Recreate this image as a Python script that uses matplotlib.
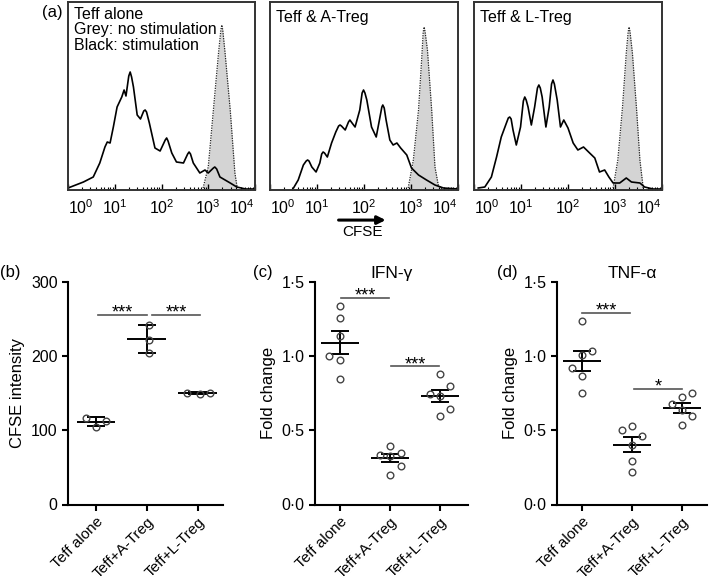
import numpy as np
import matplotlib
matplotlib.use('Agg')
import matplotlib.pyplot as plt
import matplotlib.transforms as mtransforms
from matplotlib.ticker import LogLocator, NullFormatter

plt.rcParams['font.family'] = ['Liberation Sans', 'DejaVu Sans']
plt.rcParams['mathtext.fontset'] = 'custom'
plt.rcParams['mathtext.rm'] = 'Liberation Sans'
plt.rcParams['mathtext.it'] = 'Liberation Sans:italic'
plt.rcParams['mathtext.bf'] = 'Liberation Sans:bold'

# (a) CFSE histograms as (log10 CFSE, cell count)
alone_stim_log = [0.0, 0.33, 0.54, 0.68, 0.79, 0.84, 0.90, 0.97, 1.05, 1.15, 1.20, 1.24, 1.30, 1.33, 1.36,
                  1.40, 1.48, 1.55, 1.62, 1.65, 1.68, 1.74, 1.86, 1.97, 2.08, 2.11, 2.14, 2.22, 2.32,
                  2.47, 2.56, 2.59, 2.62, 2.68, 2.82, 2.93, 3.00, 3.11, 3.14, 3.18, 3.25, 3.47, 3.61,
                  3.80, 4.0]
alone_stim_cnt = [2, 8, 13, 27, 43, 48, 47, 63, 83, 93, 100, 94, 114, 118, 113,
                  103, 75, 71, 79, 80, 78, 67, 42, 39, 50, 52, 49, 37, 28,
                  27, 36, 38, 36, 27, 17, 20, 17, 22, 23, 21, 13, 7, 3,
                  1, 1]
alone_rest_log = [2.89, 3.00, 3.11, 3.22, 3.27, 3.29, 3.31, 3.36, 3.47, 3.57, 3.62]
alone_rest_cnt = [2, 23, 80, 137, 160, 165, 160, 137, 80, 17, 2]

atreg_stim_log = [0.50, 0.60, 0.71, 0.77, 0.80, 0.83, 0.89, 0.98, 1.06, 1.10, 1.13, 1.16, 1.22, 1.31,
                  1.40, 1.46, 1.49, 1.52, 1.60, 1.67, 1.70, 1.73, 1.81, 1.91, 1.96, 1.99, 2.02, 2.06,
                  2.16, 2.26, 2.34, 2.38, 2.40, 2.43, 2.47, 2.55, 2.62, 2.70, 2.78, 2.91, 3.01, 3.16,
                  3.33, 3.51, 3.69, 4.0]
atreg_stim_cnt = [2, 10, 25, 29, 30, 29, 23, 18, 27, 36, 38, 37, 33, 47,
                  58, 64, 65, 64, 60, 68, 70, 68, 63, 80, 97, 100, 97, 90,
                  63, 53, 73, 83, 85, 82, 70, 50, 45, 47, 42, 35, 22, 15,
                  10, 5, 2, 1]
atreg_rest_log = [2.94, 3.05, 3.16, 3.23, 3.26, 3.28, 3.30, 3.35, 3.44, 3.51, 3.58, 3.66]
atreg_rest_cnt = [2, 30, 80, 133, 158, 163, 158, 140, 80, 23, 5, 1]

ltreg_stim_log = [0.09, 0.23, 0.37, 0.48, 0.58, 0.69, 0.73, 0.76, 0.79, 0.83, 0.90, 0.99, 1.05, 1.08,
                  1.11, 1.15, 1.22, 1.29, 1.35, 1.38, 1.41, 1.45, 1.53, 1.60, 1.65, 1.68, 1.71, 1.77,
                  1.84, 1.91, 2.00, 2.11, 2.21, 2.33, 2.46, 2.57, 2.67, 2.78, 2.87, 2.96, 3.10, 3.24,
                  3.35, 3.53, 3.63, 3.81, 4.0]
ltreg_stim_cnt = [2, 3, 13, 33, 53, 67, 72, 73, 71, 60, 45, 63, 89, 93,
                  90, 83, 65, 83, 102, 105, 102, 93, 63, 83, 106, 110, 106, 90,
                  63, 70, 62, 47, 40, 43, 37, 32, 18, 20, 13, 7, 7, 12,
                  8, 7, 3, 1, 1]
ltreg_rest_log = [2.96, 3.06, 3.16, 3.24, 3.28, 3.30, 3.32, 3.37, 3.46, 3.53, 3.60]
ltreg_rest_cnt = [2, 30, 83, 137, 158, 163, 158, 137, 80, 30, 2]

hist_titles = ['Teff alone\nGrey: no stimulation\nBlack: stimulation', 'Teff & A-Treg', 'Teff & L-Treg']
hist_ticks = [0, 1, 2, 3, 4]

# (b)-(d) scatter data
groups = ['Teff alone', 'Teff+A-Treg', 'Teff+L-Treg']

cfse_alone = [117, 105, 113]
cfse_atreg = [242, 222, 204]
cfse_ltreg = [151, 149, 151]

ifng_alone = [1.337, 1.258, 1.134, 0.999, 0.972, 0.848]
ifng_atreg = [0.397, 0.334, 0.330, 0.350, 0.262, 0.199]
ifng_ltreg = [0.882, 0.796, 0.745, 0.730, 0.645, 0.600]

tnfa_alone = [1.235, 1.032, 1.005, 0.920, 0.868, 0.751]
tnfa_atreg = [0.530, 0.503, 0.463, 0.400, 0.293, 0.222]
tnfa_ltreg = [0.750, 0.727, 0.680, 0.635, 0.595, 0.534]

# horizontal scatter of the dots inside each group
cfse_jitter = [[-0.2, 0.0, 0.2], [0.05, 0.05, 0.05], [-0.2, 0.05, 0.25]]
ifng_jitter = [[0, 0, 0, -0.22, 0, 0], [0, -0.2, 0, 0.22, 0.22, 0], [0, 0.2, -0.2, 0, 0.2, 0]]
tnfa_jitter = [[0, 0.2, 0, -0.2, 0, 0], [0, -0.2, 0.2, 0, 0, 0], [0.2, 0, -0.2, 0, 0.2, 0]]

# significance bars: (from, to, height, label)
cfse_sig = [(0.05, 1.0, 256, '***'), (1.1, 2.05, 256, '***')]
ifng_sig = [(0.02, 0.98, 1.393, '***'), (1.02, 1.98, 0.931, '***')]
tnfa_sig = [(0.0, 0.96, 1.293, '***'), (1.04, 2.0, 0.78, '*')]

fig = plt.figure(figsize=(7.09, 5.84), dpi=100)
W, H = 709.0, 584.0


def px_axes(left, top, right, bottom):
    return fig.add_axes([left / W, 1 - bottom / H, (right - left) / W, (bottom - top) / H])


# Draws one CFSE histogram panel
def hist_panel(ax, rest_log, rest_cnt, stim_log, stim_cnt, title, ty):
    rx = 10 ** np.array(rest_log)
    sx = 10 ** np.array(stim_log)
    ax.fill_between(rx, rest_cnt, color='#d4d4d4', lw=0)
    ax.plot(rx, rest_cnt, ls=(0, (1, 1)), color='#222', lw=0.9)
    ax.plot(sx, stim_cnt, color='black', lw=1.2)
    ax.set_xscale('log')
    ax.set_xlim(1, 1e4)
    ax.set_ylim(0, 188)
    ax.set_yticks([])
    ax.xaxis.set_major_locator(LogLocator(base=10, numticks=10))
    ax.xaxis.set_minor_locator(LogLocator(base=10, subs=np.arange(2, 10), numticks=10))
    ax.xaxis.set_minor_formatter(NullFormatter())
    ax.xaxis.set_major_formatter(NullFormatter())
    ax.tick_params(axis='x', which='major', direction='in', length=4, width=1)
    ax.tick_params(axis='x', which='minor', direction='in', length=2.5, width=0.8)
    for s in ax.spines.values():
        s.set_linewidth(1.4)
        s.set_color('#333')
    # tick labels written by hand so the end ones stay inside the box
    trans = mtransforms.blended_transform_factory(ax.transData, ax.transAxes)
    for k in hist_ticks:
        ha = 'center'
        if k == hist_ticks[0]:
            ha = 'left'
        elif k == hist_ticks[-1]:
            ha = 'right'
        ax.text(10 ** k, -0.045, r'$10^{%d}$' % k, transform=trans, ha=ha, va='top', fontsize=11.5)
    ax.text(0.03, ty, title, transform=ax.transAxes, ha='left', va='top',
            fontsize=11.5, linespacing=1.05)


ax1 = px_axes(68, 2, 255, 190)
hist_panel(ax1, alone_rest_log, alone_rest_cnt, alone_stim_log, alone_stim_cnt, hist_titles[0], 0.975)
ax2 = px_axes(270, 2, 458, 190)
hist_panel(ax2, atreg_rest_log, atreg_rest_cnt, atreg_stim_log, atreg_stim_cnt, hist_titles[1], 0.96)
ax3 = px_axes(474, 2, 662, 190)
hist_panel(ax3, ltreg_rest_log, ltreg_rest_cnt, ltreg_stim_log, ltreg_stim_cnt, hist_titles[2], 0.96)

# CFSE arrow under the middle panel
ax2.annotate('', xy=(0.63, -0.16), xytext=(0.35, -0.16), xycoords='axes fraction',
             arrowprops=dict(arrowstyle='-|>', lw=2.2, color='black', mutation_scale=12),
             annotation_clip=False)
ax2.text(0.49, -0.225, 'CFSE', transform=ax2.transAxes, ha='center', va='center', fontsize=11)


# Draws one dot plot panel with mean and error bars
def dot_panel(ax, data, jitter, sig, use_sem):
    for i, vals in enumerate(data):
        vals = np.array(vals, dtype=float)
        x = i + np.array(jitter[i])
        m = vals.mean()
        e = vals.std(ddof=1)
        if use_sem:
            e = e / np.sqrt(len(vals))
        ax.hlines(m, i - 0.38, i + 0.38, color='black', lw=1.4, zorder=2)
        ax.vlines(i, m - e, m + e, color='black', lw=1.4, zorder=2)
        ax.hlines([m - e, m + e], i - 0.18, i + 0.18, color='black', lw=1.4, zorder=2)
        ax.plot(x, vals, 'o', mfc='none', mec='#444', ms=4.8, mew=1.0, zorder=3)
    for x0, x1, y, lab in sig:
        ax.plot([x0, x1], [y, y], color='#555', lw=1.2, clip_on=False)
        ax.annotate(lab, xy=((x0 + x1) / 2, y), xytext=(0, -2), textcoords='offset points',
                    ha='center', va='baseline', fontsize=13)
    ax.set_xticks(range(len(groups)))
    ax.set_xticklabels(groups, rotation=45, ha='right', rotation_mode='anchor', fontsize=11)
    for s in ['top', 'right']:
        ax.spines[s].set_visible(False)
    for s in ['left', 'bottom']:
        ax.spines[s].set_linewidth(1.5)
    ax.tick_params(width=1.5, length=4, labelsize=11.5)
    ax.tick_params(axis='x', labelsize=11)


axb = px_axes(68, 282, 223, 504.5)
axb.set_ylim(0, 300)
axb.set_xlim(-0.55, 2.5)
axb.set_yticks([0, 100, 200, 300])
dot_panel(axb, [cfse_alone, cfse_atreg, cfse_ltreg], cfse_jitter, cfse_sig, False)
axb.set_ylabel('CFSE intensity', fontsize=12, labelpad=4)

fold_ticks = [0, 0.5, 1.0, 1.5]
fold_labels = ['0\u00b70', '0\u00b75', '1\u00b70', '1\u00b75']

axc = px_axes(315, 282, 468, 504.5)
axc.set_ylim(0, 1.5)
axc.set_xlim(-0.5, 2.56)
axc.set_yticks(fold_ticks)
axc.set_yticklabels(fold_labels)
dot_panel(axc, [ifng_alone, ifng_atreg, ifng_ltreg], ifng_jitter, ifng_sig, True)
axc.set_ylabel('Fold change', fontsize=12, labelpad=4)
axc.set_title('IFN-\u03b3', fontsize=12.5, pad=3)

axd = px_axes(557, 282, 707, 504.5)
axd.set_ylim(0, 1.5)
axd.set_xlim(-0.5, 2.5)
axd.set_yticks(fold_ticks)
axd.set_yticklabels(fold_labels)
dot_panel(axd, [tnfa_alone, tnfa_atreg, tnfa_ltreg], tnfa_jitter, tnfa_sig, True)
axd.set_ylabel('Fold change', fontsize=12, labelpad=4)
axd.set_title('TNF-\u03b1', fontsize=12.5, pad=3)

# panel letters
fig.text(52 / W, 1 - 13 / H, '(a)', ha='center', va='center', fontsize=12)
fig.text(10 / W, 1 - 273 / H, '(b)', ha='center', va='center', fontsize=12)
fig.text(263 / W, 1 - 273 / H, '(c)', ha='center', va='center', fontsize=12)
fig.text(507 / W, 1 - 272 / H, '(d)', ha='center', va='center', fontsize=12)

fig.savefig('out.png', dpi=100)
